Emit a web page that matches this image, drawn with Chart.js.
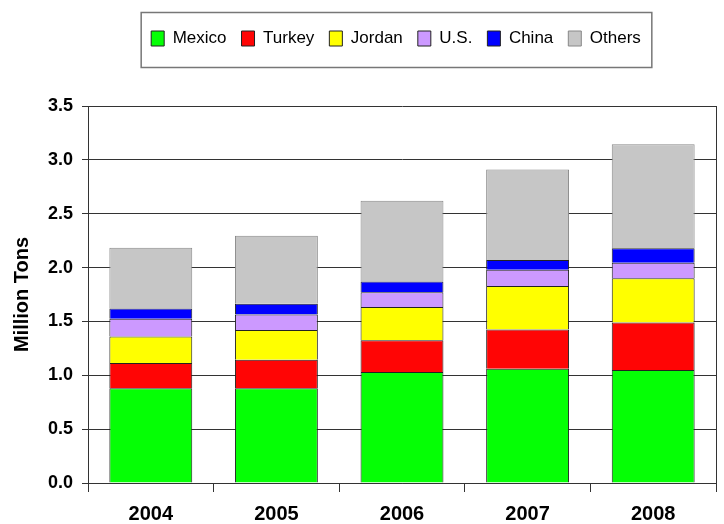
<!DOCTYPE html>
<html><head><meta charset="utf-8">
<script src="https://cdn.jsdelivr.net/npm/chart.js@4.4.0/dist/chart.umd.min.js"></script>
<style>html,body{margin:0;padding:0;background:#fff}</style>
</head><body>
<canvas id="c" width="724" height="524"></canvas>
<script>
const years = ['2004','2005','2006','2007','2008'];
const mexico = [0.88, 0.88, 1.03, 1.06, 1.05];
const turkey = [0.235, 0.265, 0.295, 0.365, 0.44];
const jordan = [0.245, 0.275, 0.31, 0.405, 0.41];
const us = [0.165, 0.145, 0.135, 0.15, 0.145];
const china = [0.095, 0.10, 0.10, 0.09, 0.135];
const others = [0.565, 0.63, 0.75, 0.84, 0.965];
const yTicks = [0, 0.5, 1.0, 1.5, 2.0, 2.5, 3.0, 3.5];

const F = "'Liberation Sans', Arial, sans-serif";
Chart.defaults.font.family = F;
Chart.defaults.color = '#000';

const legendSpace = {
  id: 'legendSpace',
  beforeUpdate(chart) {
    const lg = chart.legend;
    if (lg && !lg._patched) {
      const f = lg.fit;
      lg.fit = function () { f.call(this); this.height = 91; };
      lg._patched = true;
    }
  },
  afterLayout(chart) {
    const lg = chart.legend;
    if (!lg) return;
    // centre the legend over the plot area rather than the whole canvas
    const shift = (chart.chartArea.left + chart.chartArea.right) / 2 - (lg.left + lg.right) / 2 - 6;
    lg.left += shift;
    lg.right += shift;
    (lg.legendHitBoxes || []).forEach(b => { b.left += shift; });
  }
};
const legendBorder = {
  id: 'legendBorder',
  afterDraw(chart) {
    const hb = chart.legend && chart.legend.legendHitBoxes;
    if (!hb || !hb.length) return;
    const x0 = Math.min(...hb.map(b => b.left));
    const x1 = Math.max(...hb.map(b => b.left + b.width));
    const cy = hb[0].top + hb[0].height / 2;
    const ctx = chart.ctx;
    ctx.save();
    ctx.strokeStyle = '#777';
    ctx.lineWidth = 1.5;
    ctx.strokeRect(x0 - 10, cy - 26, x1 - x0 + 21, 55);
    ctx.restore();
  }
};
const rightBorder = {
  id: 'rightBorder',
  beforeDatasetsDraw(chart) {
    const a = chart.chartArea, ctx = chart.ctx;
    ctx.save();
    ctx.strokeStyle = '#333';
    ctx.lineWidth = 1;
    ctx.beginPath();
    ctx.moveTo(a.right + 0.5, a.top);
    ctx.lineTo(a.right + 0.5, a.bottom);
    ctx.stroke();
    ctx.restore();
  }
};

function ds(label, data, color, border) {
  return { label, data, backgroundColor: color, borderColor: border || '#222', borderWidth: 1,
    barPercentage: 0.66, categoryPercentage: 1.0 };
}

new Chart(document.getElementById('c'), {
  type: 'bar',
  data: {
    labels: years,
    datasets: [
      ds('Mexico', mexico, '#05FF05'),
      ds('Turkey', turkey, '#FF0505'),
      ds('Jordan', jordan, '#FFFF00'),
      ds('U.S.', us, '#CC99FF'),
      ds('China', china, '#0000FF'),
      ds('Others', others, '#C6C6C6', '#888')
    ]
  },
  options: {
    responsive: false,
    animation: false,
    devicePixelRatio: 1,
    layout: { padding: { top: 15, right: 8, left: 0, bottom: 0 } },
    plugins: {
      legend: {
        position: 'top',
        labels: { font: { family: F, size: 17 }, color: '#000', boxWidth: 13, boxHeight: 15, padding: 15 }
      },
      tooltip: { enabled: false }
    },
    scales: {
      x: {
        stacked: true,
        afterFit: s => { s.height = 41; },
        grid: { offset: true, drawOnChartArea: false, color: '#333', tickLength: 9 },
        border: { color: '#333' },
        ticks: { font: { size: 20, weight: 'bold', lineHeight: 1 }, color: '#000', padding: 12 }
      },
      y: {
        stacked: true,
        min: 0, max: 3.5,
        afterBuildTicks: s => { s.ticks = yTicks.map(v => ({ value: v })); },
        afterFit: s => { s.width = 88; },
        ticks: { callback: v => Number(v).toFixed(1), font: { size: 18, weight: 'bold' }, color: '#000', padding: 9 },
        grid: { color: '#333', tickLength: 6 },
        border: { color: '#333' },
        title: { display: true, text: 'Million Tons', font: { size: 20, weight: 'bold' }, color: '#000', padding: { top: 10, bottom: 0 } }
      }
    }
  },
  plugins: [legendSpace, legendBorder, rightBorder]
});
</script>
</body></html>
